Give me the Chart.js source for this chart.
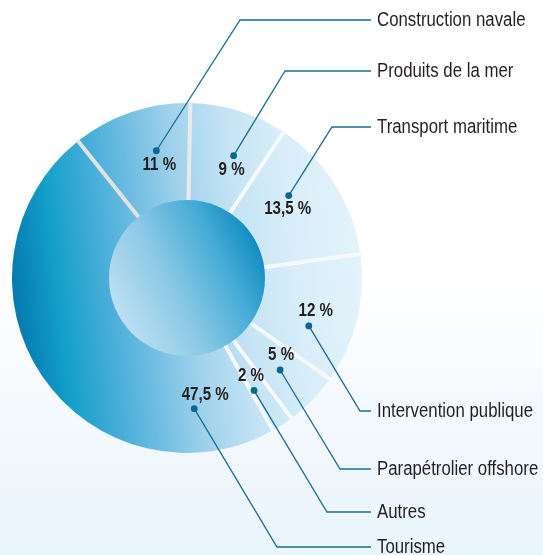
<!DOCTYPE html>
<html>
<head>
<meta charset="utf-8">
<script src="https://cdn.jsdelivr.net/npm/chart.js@4.4.1/dist/chart.umd.min.js"></script>
<style>
html, body { margin: 0; padding: 0; }
body {
  width: 543px; height: 555px; overflow: hidden;
  background: linear-gradient(to bottom, #ffffff 0%, #ffffff 50%, #f4f9fd 75%, #e9f5fc 100%);
}
canvas { display: block; }
</style>
</head>
<body>
<canvas id="donut" width="543" height="555"></canvas>
<script>
// Secteurs, dans le sens horaire à partir de la construction navale
const categories = ['Construction navale', 'Produits de la mer', 'Transport maritime', 'Intervention publique', 'Parapétrolier offshore', 'Autres', 'Tourisme'];
const parts = [11, 9, 13.5, 12, 5, 2, 47.5];

// Mise en page des étiquettes (pas des données)
const dotPos = [0.63, 0.61, 0.36, 0.68, 0.52, 0.82, 0.154]; // position du point le long de l'arc
const pctOffset = [[3, 14], [-2, 14], [-1, 13], [7, -15], [1, -15], [-3, -14], [11, -14]];
const nameY = [20, 71, 127, 411, 469, 512, 547];
const elbowX = [240, 285, 332, 360, 340, 327, 277];
const sepColors = ['#e2e2e2', '#eaeaea', '#f6f9fb', '#f6f9fb', '#f6f9fb', '#f6f9fb', '#f6f9fb'];

const FONT = '"Liberation Sans", Arial, sans-serif';
const NARROW = 0.84; // police étroite simulée

// texte condensé horizontalement
function narrowText(ctx, txt, x, y) {
  ctx.save();
  ctx.translate(x, y);
  ctx.scale(NARROW, 1);
  ctx.fillText(txt, 0, 0);
  ctx.restore();
}

// Dégradé de l'anneau : bleu foncé à gauche, très clair à droite
function ringGradient(context) {
  const chart = context.chart;
  const a = chart.chartArea;
  if (!a) return '#5ab0d8';
  const cy = (a.top + a.bottom) / 2;
  const g = chart.ctx.createLinearGradient(a.left, cy + 20, a.right, cy - 20);
  g.addColorStop(0, '#0578ad');
  g.addColorStop(0.05, '#0987ba');
  g.addColorStop(0.14, '#15a1ca');
  g.addColorStop(0.24, '#3eaad6');
  g.addColorStop(0.36, '#6abbe1');
  g.addColorStop(0.5, '#9fd1eb');
  g.addColorStop(0.65, '#c3e3f4');
  g.addColorStop(0.8, '#d7edf9');
  g.addColorStop(1, '#e4f3fb');
  return g;
}

const decor = {
  id: 'decor',
  afterDatasetsDraw(chart) {
    const ctx = chart.ctx;
    const arcs = chart.getDatasetMeta(0).data;
    const cx = arcs[0].x, cy = arcs[0].y;
    const rIn = arcs[0].innerRadius, rOut = arcs[0].outerRadius;
    ctx.save();

    // séparateurs
    arcs.forEach((arc, i) => {
      const a = arc.startAngle;
      ctx.beginPath();
      ctx.moveTo(cx + Math.cos(a) * (rIn - 2), cy + Math.sin(a) * (rIn - 2));
      ctx.lineTo(cx + Math.cos(a) * (rOut + 1), cy + Math.sin(a) * (rOut + 1));
      ctx.strokeStyle = sepColors[i];
      ctx.lineWidth = 4;
      ctx.stroke();
    });

    // disque central
    const g = ctx.createLinearGradient(cx - rIn, cy + 40, cx + rIn, cy - 40);
    g.addColorStop(0, '#c4e3f2');
    g.addColorStop(0.4, '#8ac8e6');
    g.addColorStop(0.72, '#47acd7');
    g.addColorStop(1, '#0786bb');
    ctx.beginPath();
    ctx.arc(cx, cy, rIn + 1, 0, Math.PI * 2);
    ctx.fillStyle = g;
    ctx.fill();

    // traits de rappel, points et étiquettes
    const rDot = rIn + 0.55 * (rOut - rIn);
    arcs.forEach((arc, i) => {
      const ang = arc.startAngle + dotPos[i] * (arc.endAngle - arc.startAngle);
      const dx = cx + Math.cos(ang) * rDot;
      const dy = cy + Math.sin(ang) * rDot;

      ctx.beginPath();
      ctx.moveTo(dx, dy);
      ctx.lineTo(elbowX[i], nameY[i]);
      ctx.lineTo(371, nameY[i]);
      ctx.strokeStyle = '#176d95';
      ctx.lineWidth = 1.3;
      ctx.stroke();

      ctx.beginPath();
      ctx.arc(dx, dy, 3.4, 0, Math.PI * 2);
      ctx.fillStyle = '#0b6690';
      ctx.fill();

      ctx.fillStyle = '#231f20';
      ctx.textAlign = 'center';
      ctx.textBaseline = 'middle';
      ctx.font = 'bold 18px ' + FONT;
      const txt = String(parts[i]).replace('.', ',') + ' %';
      narrowText(ctx, txt, dx + pctOffset[i][0], dy + pctOffset[i][1]);

      ctx.textAlign = 'left';
      ctx.font = '20px ' + FONT;
      narrowText(ctx, categories[i], 377, nameY[i]);
    });
    ctx.restore();
  }
};

const ctx = document.getElementById('donut').getContext('2d');
new Chart(ctx, {
  type: 'doughnut',
  data: {
    labels: categories,
    datasets: [{
      data: parts,
      backgroundColor: ringGradient,
      borderWidth: 0
    }]
  },
  options: {
    responsive: false,
    animation: false,
    rotation: -38.5,
    cutout: '44%',
    layout: { padding: { left: 12, top: 103, right: 181, bottom: 102 } },
    plugins: {
      legend: { display: false },
      tooltip: { enabled: false }
    }
  },
  plugins: [decor]
});
</script>
</body>
</html>
